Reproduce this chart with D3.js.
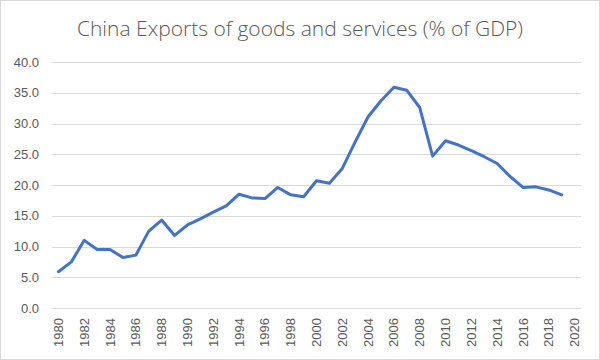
<!DOCTYPE html>
<html>
<head>
<meta charset="utf-8">
<script src="https://cdn.jsdelivr.net/npm/d3@7.9.0/dist/d3.min.js"></script>
<style>
  body { margin: 0; background: #fff; }
  svg { display: block; }
</style>
</head>
<body>
<svg id="chart" width="600" height="360"></svg>
<script>
// chart data
const years = d3.range(1980, 2021).map(String);
const dataYears = d3.range(1980, 2020).map(String);
const exportsPct = [
  5.9, 7.5, 11.0, 9.5, 9.5, 8.2, 8.6, 12.5, 14.3, 11.8,
  13.5, 14.5, 15.6, 16.6, 18.5, 17.9, 17.8, 19.6, 18.4, 18.1,
  20.7, 20.3, 22.7, 27.0, 31.1, 33.7, 35.9, 35.4, 32.6, 24.7,
  27.2, 26.5, 25.6, 24.6, 23.5, 21.4, 19.6, 19.7, 19.2, 18.4
];
const yTicks = [0, 5, 10, 15, 20, 25, 30, 35, 40];
const xTickLabels = years.filter((d, i) => i % 2 === 0);

const svg = d3.select('#chart');
const width = 600, height = 360;
const margin = { top: 62, right: 19, bottom: 52, left: 52 };
const labelFont = 'Liberation Sans, Arial, sans-serif';

// outer border
svg.append('rect')
  .attr('x', 0.5).attr('y', 0.5)
  .attr('width', width - 1).attr('height', height - 1)
  .attr('fill', '#fff')
  .attr('stroke', '#d9d9d9');

const x = d3.scaleBand()
  .domain(years)
  .range([margin.left, width - margin.right]);

const y = d3.scaleLinear()
  .domain([0, 40])
  .range([height - margin.bottom, margin.top]);

// gridlines
svg.append('g')
  .selectAll('line')
  .data(yTicks)
  .join('line')
  .attr('x1', margin.left)
  .attr('x2', width - margin.right)
  .attr('y1', d => Math.round(y(d)) + 0.5)
  .attr('y2', d => Math.round(y(d)) + 0.5)
  .attr('stroke', '#d9d9d9')
  .attr('stroke-width', 1);

// y axis labels
svg.append('g')
  .selectAll('text')
  .data(yTicks)
  .join('text')
  .attr('x', margin.left - 13)
  .attr('y', d => y(d))
  .attr('dy', '0.35em')
  .attr('text-anchor', 'end')
  .attr('fill', '#595959')
  .attr('font-family', labelFont)
  .attr('font-size', 13)
  .text(d => d3.format('.1f')(d));

// x axis labels, rotated to read bottom-up
const xLab = svg.append('g')
  .selectAll('g')
  .data(xTickLabels)
  .join('g')
  .attr('transform', d => `translate(${x(d) + x.bandwidth() / 2},${height - margin.bottom + 10})`);

xLab.append('text')
  .attr('transform', 'rotate(-90)')
  .attr('dy', '0.35em')
  .attr('text-anchor', 'end')
  .attr('fill', '#595959')
  .attr('font-family', labelFont)
  .attr('font-size', 13)
  .text(d => d);

// the line
const line = d3.line()
  .x((d, i) => x(dataYears[i]) + x.bandwidth() / 2)
  .y(d => y(d));

svg.append('path')
  .datum(exportsPct)
  .attr('fill', 'none')
  .attr('stroke', '#4472c4')
  .attr('stroke-width', 3)
  .attr('stroke-linejoin', 'round')
  .attr('stroke-linecap', 'round')
  .attr('d', line);

// title
svg.append('text')
  .attr('x', 300)
  .attr('y', 36)
  .attr('text-anchor', 'middle')
  .attr('fill', '#595959')
  .attr('font-family', 'Open Sans, sans-serif')
  .attr('font-weight', 300)
  .attr('font-size', 21)
  .text('China Exports of goods and services (% of GDP)');
</script>
</body>
</html>
